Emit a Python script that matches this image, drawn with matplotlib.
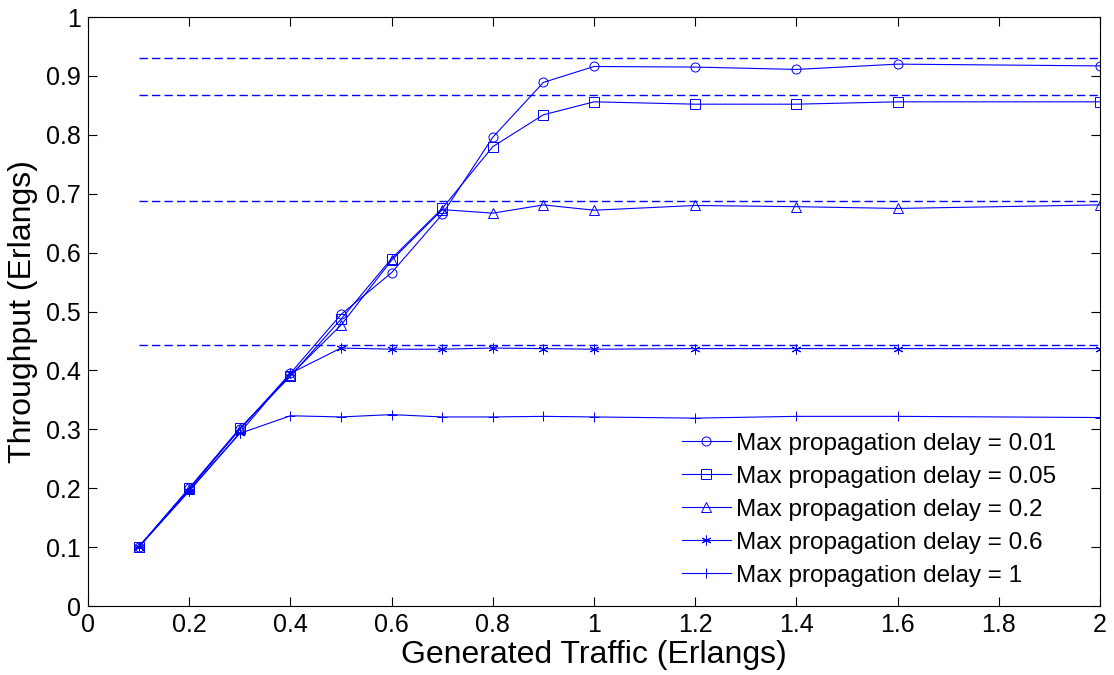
import numpy as np
import matplotlib
matplotlib.use('Agg')
import matplotlib.pyplot as plt

# Generated traffic (Erlangs)
traffic = [0.1, 0.2, 0.3, 0.4, 0.5, 0.6, 0.7, 0.8, 0.9, 1.0, 1.2, 1.4, 1.6, 2.0]

# Throughput for each max propagation delay
thr_001 = [0.100, 0.200, 0.300, 0.395, 0.495, 0.566, 0.665, 0.796, 0.889, 0.916, 0.915, 0.911, 0.920, 0.917]
thr_005 = [0.100, 0.200, 0.302, 0.390, 0.487, 0.590, 0.675, 0.780, 0.834, 0.856, 0.852, 0.852, 0.856, 0.856]
thr_02 = [0.100, 0.198, 0.300, 0.392, 0.477, 0.587, 0.673, 0.667, 0.681, 0.672, 0.680, 0.678, 0.675, 0.681]
thr_06 = [0.100, 0.195, 0.294, 0.395, 0.438, 0.436, 0.436, 0.438, 0.437, 0.436, 0.437, 0.437, 0.437, 0.437]
thr_1 = [0.100, 0.196, 0.293, 0.323, 0.321, 0.325, 0.321, 0.321, 0.322, 0.321, 0.319, 0.322, 0.322, 0.320]

# dashed reference levels
ref_levels = [0.931, 0.867, 0.687, 0.443]

labels = ['Max propagation delay = 0.01', 'Max propagation delay = 0.05',
          'Max propagation delay = 0.2', 'Max propagation delay = 0.6',
          'Max propagation delay = 1']
# (6, 2, 0) -> asterisk like matlab '*'
markers = ['o', 's', '^', (6, 2, 0), '+']
series = [thr_001, thr_005, thr_02, thr_06, thr_1]

plt.rcParams['font.family'] = ['Liberation Sans', 'DejaVu Sans']

fig = plt.figure(figsize=(11.14, 6.75), dpi=100)
ax = fig.add_axes([0.079, 0.1022, 0.9085, 0.8726])

for y, m, lab in zip(series, markers, labels):
    ms = 6.5 if m in ('o', 's', '^') else 7
    ax.plot(traffic, y, color='blue', linestyle='-', linewidth=0.8,
            marker=m, markersize=ms, markerfacecolor='none',
            markeredgecolor='blue', markeredgewidth=0.7, label=lab)

for lv in ref_levels:
    ax.plot([traffic[0], traffic[-1]], [lv, lv], color='blue', linestyle='--',
            linewidth=1.0, dashes=(6, 3))

ax.set_xlim(0, 2)
ax.set_ylim(0, 1)
ax.set_xticks(np.arange(0, 2.01, 0.2))
ax.set_xticklabels(['0', '0.2', '0.4', '0.6', '0.8', '1', '1.2', '1.4', '1.6', '1.8', '2'])
ax.set_yticks(np.arange(0, 1.01, 0.1))
ax.set_yticklabels(['0', '0.1', '0.2', '0.3', '0.4', '0.5', '0.6', '0.7', '0.8', '0.9', '1'])
ax.tick_params(direction='in', length=6.5, width=0.8, top=True, right=True,
               labelsize=18, pad=5)
for sp in ax.spines.values():
    sp.set_linewidth(0.8)

ax.set_xlabel('Generated Traffic (Erlangs)', fontsize=23, labelpad=2)
ax.set_ylabel('Throughput (Erlangs)', fontsize=23, labelpad=6)

ax.legend(loc='upper left', bbox_to_anchor=(0.587, 0.294), frameon=False,
          fontsize=17.5, handlelength=2.0, handletextpad=0.2, labelspacing=0.45,
          borderpad=0, borderaxespad=0)

plt.savefig('out.png', dpi=100)
